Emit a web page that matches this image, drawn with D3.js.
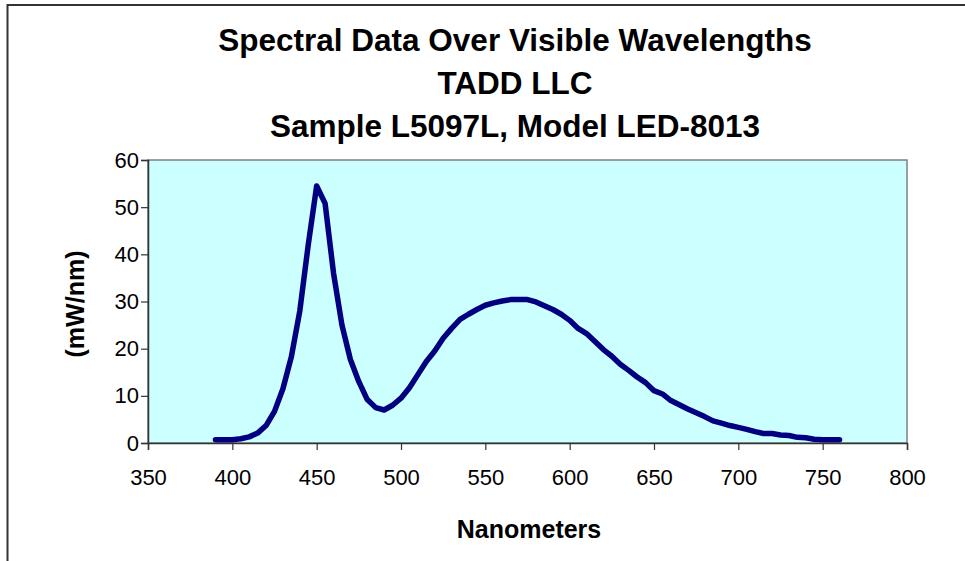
<!DOCTYPE html>
<html>
<head>
<meta charset="utf-8">
<script src="https://cdn.jsdelivr.net/npm/d3@7"></script>
<style>
  body { margin: 0; background: #fff; }
  text { font-family: Arial, "Liberation Sans", sans-serif; fill: #000; }
</style>
</head>
<body>
<svg id="chart" width="965" height="561"></svg>
<script>
var wavelengths = [390,395,400,405,410,415,420,425,430,435,440,445,450,455,460,465,470,475,480,485,
                   490,495,500,505,510,515,520,525,530,535,540,545,550,555,560,565,570,575,580,585,
                   590,595,600,605,610,615,620,625,630,635,640,645,650,655,660,665,670,675,680,685,
                   690,695,700,705,710,715,720,725,730,735,740,745,750,755,760];
var power = [0.7,0.7,0.7,0.9,1.3,2.1,3.7,6.7,11.5,18.3,28,42,54.5,50.8,36,25,17.7,13,9.2,7.5,
             7.0,8.0,9.5,11.7,14.5,17.3,19.5,22.2,24.3,26.2,27.3,28.3,29.2,29.7,30.1,30.4,30.4,30.4,29.9,29.1,
             28.3,27.3,26.0,24.3,23.2,21.5,19.8,18.4,16.7,15.4,14.0,12.8,11.1,10.4,9.0,8.1,7.2,6.4,5.6,4.7,
             4.2,3.7,3.3,2.9,2.4,2.0,2.0,1.7,1.6,1.2,1.1,0.8,0.7,0.7,0.7];
var xTicks = [350,400,450,500,550,600,650,700,750,800];
var yTicks = [0,10,20,30,40,50,60];
var titleLines = ["Spectral Data Over Visible Wavelengths", "TADD LLC", "Sample L5097L, Model LED-8013"];

var svg = d3.select("#chart");

//plot area box (note: "top" is taken by window.top, so prefix everything)
var plotLeft = 148, plotRight = 907, plotTop = 160, plotBottom = 443;

var x = d3.scaleLinear().domain([350, 800]).range([plotLeft, plotRight]);
var y = d3.scaleLinear().domain([0, 60]).range([plotBottom, plotTop]);

//outer chart frame (only top and left edges show in the picture)
svg.append("path")
    .attr("d", "M7.5,561 L7.5,5 L965,5")
    .attr("fill", "none")
    .attr("stroke", "#333")
    .attr("stroke-width", 2);

//plot background
svg.append("rect")
    .attr("x", plotLeft).attr("y", plotTop)
    .attr("width", plotRight - plotLeft).attr("height", plotBottom - plotTop)
    .attr("fill", "#CCFFFF")
    .attr("stroke", "#808080")
    .attr("stroke-width", 1.5);

//axes
var xAxis = d3.axisBottom(x).tickValues(xTicks).tickSize(7).tickPadding(19);
var yAxis = d3.axisLeft(y).tickValues(yTicks).tickSize(7).tickPadding(2);

var gx = svg.append("g").attr("transform", "translate(0," + plotBottom + ")").call(xAxis);
var gy = svg.append("g").attr("transform", "translate(" + plotLeft + ",0)").call(yAxis);

[gx, gy].forEach(function(g){
    g.select(".domain").attr("stroke", "#333").attr("stroke-width", 1.5);
    g.selectAll(".tick line").attr("stroke", "#333").attr("stroke-width", 1.2);
    g.selectAll(".tick text").attr("font-size", 22).attr("font-family", "Arial, 'Liberation Sans', sans-serif").attr("fill", "#000");
});

//the spectrum line
var line = d3.line()
    .x(function(d, i){ return x(wavelengths[i]); })
    .y(function(d){ return y(d); });

svg.append("path")
    .datum(power)
    .attr("d", line)
    .attr("fill", "none")
    .attr("stroke", "#000080")
    .attr("stroke-width", 5.5)
    .attr("stroke-linejoin", "round")
    .attr("stroke-linecap", "round");

//title
svg.append("g").selectAll("text")
    .data(titleLines)
    .join("text")
    .attr("x", 515)
    .attr("y", function(d, i){ return 51 + i * 43; })
    .attr("text-anchor", "middle")
    .attr("font-size", 31.5)
    .attr("font-weight", "bold")
    .text(function(d){ return d; });

//axis titles
svg.append("text")
    .attr("x", 529)
    .attr("y", 538)
    .attr("text-anchor", "middle")
    .attr("font-size", 25)
    .attr("font-weight", "bold")
    .text("Nanometers");

svg.append("text")
    .attr("transform", "translate(84,304) rotate(-90)")
    .attr("text-anchor", "middle")
    .attr("font-size", 25)
    .attr("font-weight", "bold")
    .text("(mW/nm)");
</script>
</body>
</html>
